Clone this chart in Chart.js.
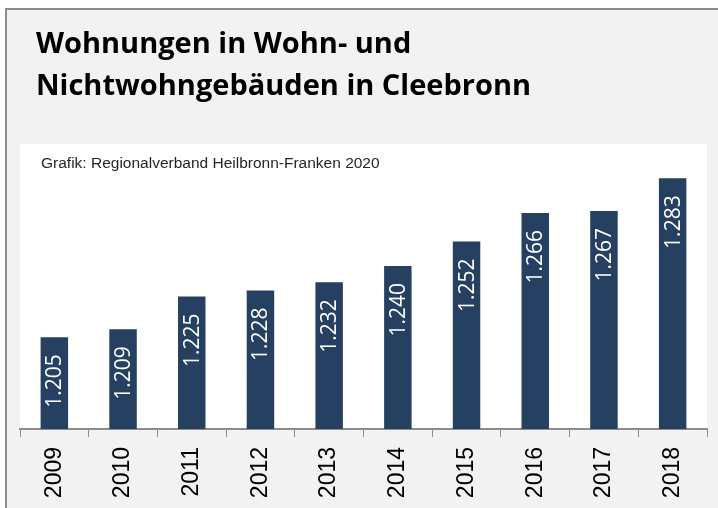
<!DOCTYPE html>
<html lang="de">
<head>
<meta charset="UTF-8">
<title>Wohnungen in Cleebronn</title>
<script src="https://cdn.jsdelivr.net/npm/chart.js"></script>
<style>
  body { margin: 0; background: #ffffff; }
  canvas { display: block; }
</style>
</head>
<body>
<canvas id="chart" width="718" height="508"></canvas>
<script>
// Daten
const jahre = ['2009', '2010', '2011', '2012', '2013', '2014', '2015', '2016', '2017', '2018'];
const wohnungen = [1205, 1209, 1225, 1228, 1232, 1240, 1252, 1266, 1267, 1283];
const titelZeilen = ['Wohnungen in Wohn- und', 'Nichtwohngebäuden in Cleebronn'];
const quelle = 'Grafik: Regionalverband Heilbronn-Franken 2020';

// Zahl mit Tausenderpunkt
function formatZahl(n) {
  return String(n).replace(/\B(?=(\d{3})+(?!\d))/g, '.');
}

// Hintergrund, Rahmen und weisses Feld
const hintergrund = {
  id: 'hintergrund',
  beforeDraw(chart) {
    const ctx = chart.ctx;
    const a = chart.chartArea;
    ctx.save();
    ctx.fillStyle = '#ffffff';
    ctx.fillRect(0, 0, chart.width, chart.height);
    ctx.fillStyle = '#f2f2f2';
    ctx.fillRect(5, 8, chart.width - 5, chart.height - 8);
    ctx.fillStyle = '#8c8c8c';
    ctx.fillRect(5, 8, chart.width - 5, 2);
    ctx.fillRect(5, 8, 2, chart.height - 8);
    ctx.fillStyle = '#ffffff';
    ctx.fillRect(a.left, 144, a.right - a.left, a.bottom - 144);

    // Titel
    ctx.fillStyle = '#000000';
    ctx.font = 'bold 29px "Open Sans"';
    ctx.textBaseline = 'alphabetic';
    ctx.textAlign = 'left';
    ctx.fillText(titelZeilen[0], 36, 53);
    ctx.fillText(titelZeilen[1], 36, 95);

    // Quelle
    ctx.fillStyle = '#262626';
    ctx.font = '15.5px "Liberation Sans"';
    ctx.fillText(quelle, 41, 168);
    ctx.restore();
  }
};

// Werte in den Balken
const balkenWerte = {
  id: 'balkenWerte',
  afterDatasetsDraw(chart) {
    const ctx = chart.ctx;
    const meta = chart.getDatasetMeta(0);
    ctx.save();
    ctx.fillStyle = '#ffffff';
    ctx.font = '21px "Open Sans"';
    ctx.textAlign = 'right';
    ctx.textBaseline = 'middle';
    meta.data.forEach((bar, i) => {
      ctx.save();
      ctx.translate(bar.x + 1, bar.y + 17);
      ctx.rotate(-Math.PI / 2);
      ctx.fillText(formatZahl(wohnungen[i]), 0, 0);
      ctx.restore();
    });
    ctx.restore();
  }
};

new Chart(document.getElementById('chart'), {
  type: 'bar',
  data: {
    labels: jahre,
    datasets: [{
      data: wohnungen,
      backgroundColor: '#254061',
      borderWidth: 0,
      barPercentage: 0.4,
      categoryPercentage: 1
    }]
  },
  options: {
    responsive: false,
    animation: false,
    layout: { padding: { left: 20, right: 11, top: 160, bottom: 0 } },
    plugins: {
      legend: { display: false },
      tooltip: { enabled: false }
    },
    scales: {
      x: {
        afterFit(scale) { scale.height = 79; },
        grid: {
          display: true,
          drawOnChartArea: false,
          drawTicks: true,
          tickLength: 8,
          color: '#8c8c8c',
          offset: true
        },
        border: { display: true, color: '#8c8c8c', width: 2 },
        ticks: {
          color: '#000000',
          font: { family: 'Liberation Sans', size: 23 },
          minRotation: 90,
          maxRotation: 90,
          padding: 10
        }
      },
      y: {
        display: false,
        min: 1160,
        max: 1292
      }
    }
  },
  plugins: [hintergrund, balkenWerte]
});
</script>
</body>
</html>
